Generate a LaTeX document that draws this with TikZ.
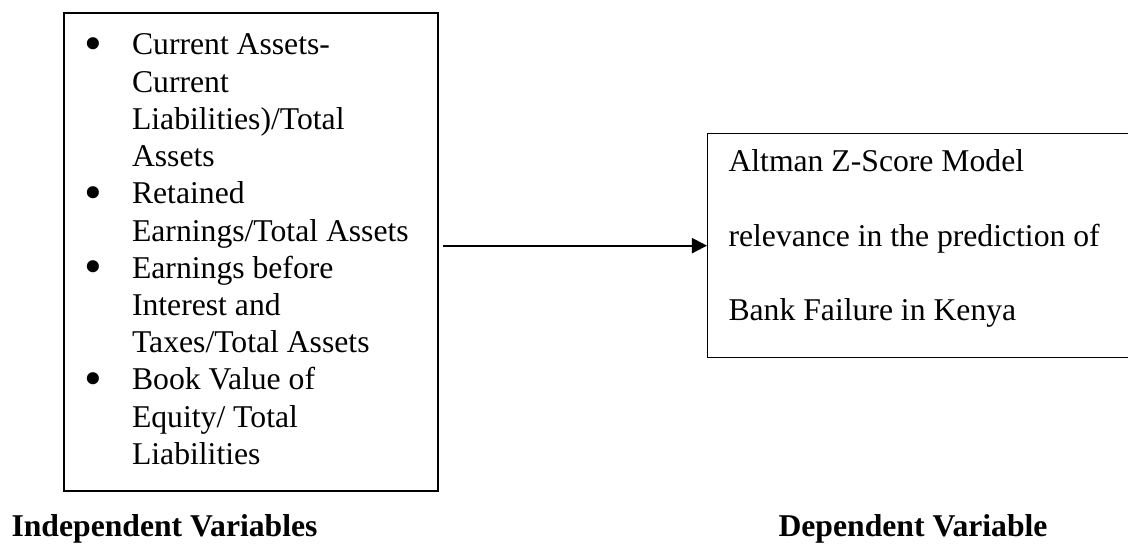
\documentclass[tikz,border=0pt]{standalone}
\usepackage{fontspec}
\setmainfont{Liberation Serif}
\usetikzlibrary{arrows.meta}

\newcommand{\bigdot}{\raisebox{-2.1pt}{\scalebox{1.6}{\textbullet}}}

\begin{document}
\begin{tikzpicture}[x=0.3788pt, y=-0.3788pt]
		\tikzstyle{box}=[draw, anchor=north west, inner sep=0pt];
		\tikzstyle{txt}=[anchor=base west, inner sep=0pt];
		\tikzstyle{lbl}=[anchor=base west, inner sep=0pt, font=\fontsize{12}{14}\selectfont\bfseries];

		\useasboundingbox (0,0) rectangle (1128,546);

		% the two boxes
		\node[box, line width=0.8pt, minimum width=141.7pt, minimum height=181.1pt] (indep) at (63,12) {};
		\node[box, line width=0.45pt, minimum width=161.7pt, minimum height=84.9pt] (dep) at (707,133) {};

		\node[txt, font=\fontsize{12}{14.1}\selectfont] (items) at (84,55) {%
			\begin{tabular}[t]{@{}p{18pt}@{}l@{}}
				\bigdot & Current Assets-\\
				 & Current\\
				 & Liabilities)/Total\\
				 & Assets\\
				\bigdot & Retained\\
				 & Earnings/Total Assets\\
				\bigdot & Earnings before\\
				 & Interest and\\
				 & Taxes/Total Assets\\
				\bigdot & Book Value of\\
				 & Equity/ Total\\
				 & Liabilities
			\end{tabular}};

		\node[txt, font=\fontsize{12}{28.2}\selectfont] (deptext) at (728,172) {%
			\begin{tabular}[t]{@{}l@{}}
				Altman Z-Score Model\\
				relevance in the prediction of\\
				Bank Failure in Kenya
			\end{tabular}};

		\node[lbl] (indeplbl) at (11,536) {Independent Variables};
		\node[lbl] (deplbl) at (778,536) {Dependent Variable};

		\draw[line width=0.75pt, -{Triangle[length=5.7pt,width=5.7pt]}] (indep.east |- dep.west) ++(1.5pt,0) -- (dep.west);
	\end{tikzpicture}
\end{document}
